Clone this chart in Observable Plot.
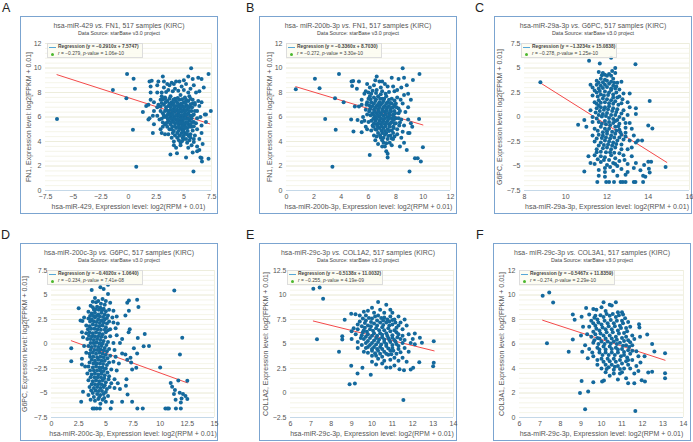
<!DOCTYPE html>
<html><head><meta charset="utf-8">
<script src="https://cdn.jsdelivr.net/npm/d3@7"></script>
<script src="https://cdn.jsdelivr.net/npm/@observablehq/plot@0.6"></script>
<style>
html,body{margin:0;padding:0;background:#fff}
#fig{position:relative;width:693px;height:442px;overflow:hidden;font-family:"Liberation Sans",Arial,sans-serif;color:#555}
.letter{position:absolute;font-size:12.5px;line-height:12px;color:#222}
.panel{position:absolute;width:196px;height:196px;border:1px solid #7ba4d0;background:#fff}
.panel svg{position:absolute;left:0;top:0;overflow:visible;background:transparent}
.title{position:absolute;left:0;width:196px;text-align:center;white-space:nowrap;top:5px;font-size:6.9px;line-height:8px;color:#555}
.sub{position:absolute;left:0;width:196px;text-align:center;white-space:nowrap;top:13px;font-size:5.3px;line-height:7px;color:#444}
.legend{position:absolute;width:94px;height:13px;top:26px;border:1px solid #ddd;background:rgba(252,252,240,.88);font-size:4.9px;line-height:6.5px;color:#444;white-space:nowrap}
.legend b{position:absolute;left:10px;top:0}
.legend span{position:absolute;left:10px;top:7px}
.swatch{position:absolute;left:1px;top:3px;width:7px;height:1px;background:#56a7d8}
.gdot{position:absolute;left:3px;top:8.5px;width:3px;height:3px;border-radius:50%;background:#4cb82e}
</style></head><body><div id="fig"></div>
<script>
const letters = ["A","B","C","D","E","F"];
const titles = [
 ["hsa-miR-429","FN1"],["hsa- miR-200b-3p","FN1"],["hsa-miR-29a-3p","G6PC"],
 ["hsa-miR-200c-3p","G6PC"],["hsa-miR-29c-3p","COL1A2"],["hsa- miR-29c-3p","COL3A1"]];
const xLabels = ["hsa-miR-429","hsa-miR-200b-3p","hsa-miR-29a-3p","hsa-miR-200c-3p","hsa-miR-29c-3p","hsa-miR-29c-3p"];
const yLabels = ["FN1","FN1","G6PC","G6PC","COL1A2","COL3A1"];
const slopes = [-0.2910,-0.3360,-1.3234,-0.4020,-0.5138,-0.5467];
const intercepts = [7.5747,8.7030,15.0838,1.0640,11.0032,11.8359];
const rValues = ["-0.279","-0.272","-0.278","-0.234","-0.255","-0.274"];
const pValues = ["1.06e-10","3.30e-10","1.25e-10","7.41e-08","4.19e-09","2.29e-10"];
const xDomains = [[-7.5,7.5],[0,12],[8,16],[0,15],[6,14],[6,14]];
const yDomains = [[0,12],[0,12],[-7.5,7.5],[-7.5,7.5],[-2.5,12.5],[0,12]];
const xTicks = [[-7.5,-5,-2.5,0,2.5,5,7.5],[0,2,4,6,8,10,12],[8,10,12,14,16],[0,2.5,5,7.5,10,12.5,15],[6,7,8,9,10,11,12,13,14],[6,7,8,9,10,11,12,13,14]];
const yTicks = [[0,2,4,6,8,10,12],[0,2,4,6,8,10,12],[-7.5,-5,-2.5,0,2.5,5,7.5],[-7.5,-5,-2.5,0,2.5,5,7.5],[-2.5,0,2.5,5,7.5,10,12.5],[0,2,4,6,8,10,12]];
const minorSteps = [0.4,0.4,0.5,0.5,0.5,0.4];
const lineX = [[-6.46,7.35],[0.68,9.98],[8.77,14.9],[1.82,12.5],[7.12,13.05],[7.13,13.1]];

const pointsA = [-6.46,5.84,-1.41,8.2,-0.13,9.51,-0.19,7.53,0.46,9.13,0.58,8.3,0.4,4.95,0.7,1.93,5.66,9.97,7.23,9.51,7.44,6.5,5.87,1.55,7.23,2.6,3.79,2.93,4.38,3.04,5.2,2.7,6.6,2.66,6.64,2.36,
1.9,8.9,2.0,8.5,2.1,8.95,2.0,8.0,2.6,8.6,2.7,8.9,2.6,8.0,3.1,9.3,3.2,8.9,3.2,8.4,3.5,8.7,3.7,8.6,3.6,8.2,3.9,8.8,4.1,8.7,4.3,8.9,4.6,8.9,4.2,8.3,4.8,8.5,5.0,9.0,5.4,9.3,5.2,8.7,5.8,9.1,6.3,9.2,6.6,9.1,5.9,8.6,6.1,8.0,6.8,8.4,6.4,8.1,5.6,8.3,
1.3,6.4,1.6,6.9,1.8,7.0,2.0,7.4,2.3,7.2,2.6,6.8,2.7,7.0,1.8,5.8,1.9,5.9,2.2,6.1,2.3,6.5,2.6,6.1,2.8,5.8,2.3,5.4,2.2,4.7,2.9,5.0,3.1,5.2,3.3,4.6,3.0,4.7,3.6,4.6,2.9,7.4,3.0,7.7,3.3,7.5,2.9,6.5,3.2,6.0,3.4,5.5,3.7,5.0,3.9,4.3,4.1,4.0,4.1,3.7,4.3,3.5,4.0,4.7,
4.7,3.9,5.0,4.2,5.3,3.9,5.4,3.5,5.7,3.7,5.8,3.1,6.2,3.6,6.2,3.2,6.0,4.5,6.4,4.2,6.7,3.8,6.6,4.7,6.2,5.0,5.6,4.6,5.1,4.7,4.6,4.5,4.8,5.0,
6.4,6.9,6.5,6.0,6.9,6.2,7.0,6.2,6.2,6.5,6.0,7.0,6.3,7.3,6.6,7.2,5.8,7.4,6.1,5.5,6.6,5.3,7.0,5.6,5.9,5.6,6.2,5.9,
3.3,7.6,3.8,7.7,4.2,7.5,4.7,7.8,5.1,7.6,5.5,7.7,3.5,7.3,3.9,7.2,4.3,7.3,4.6,7.4,5.0,7.2,5.4,7.3,5.8,7.1,3.2,7.0,3.6,6.9,4.0,7.0,4.3,6.9,4.6,7.0,4.9,6.9,5.2,7.0,5.5,6.8,
3.4,6.6,3.8,6.6,4.1,6.7,4.4,6.6,4.7,6.7,5.0,6.6,5.3,6.6,5.7,6.5,3.1,6.3,3.6,6.3,3.9,6.3,4.2,6.4,4.5,6.3,4.8,6.4,5.1,6.3,5.4,6.3,5.9,6.2,3.4,6.0,3.8,6.0,4.1,6.0,4.4,6.1,4.7,6.0,5.0,6.0,5.3,5.9,5.7,5.9,
3.6,5.7,4.0,5.7,4.3,5.8,4.6,5.7,4.9,5.7,5.2,5.6,5.5,5.7,3.3,5.4,3.8,5.4,4.2,5.5,4.5,5.4,4.8,5.4,5.1,5.3,5.4,5.4,3.9,5.0,4.3,5.1,4.6,5.1,5.0,5.0,5.3,5.1,5.7,5.2,4.4,4.7,4.8,4.7,5.3,4.6,5.6,4.3,4.9,4.3,4.4,4.3,5.2,4.2,4.7,3.7];
const extraA = [3.0,8.0,3.4,8.05,4.0,8.1,4.5,8.15,5.0,8.2,5.4,8.0,3.1,7.45,3.7,7.5,4.05,7.4,4.45,7.55,4.85,7.45,5.2,7.4,5.6,7.5,3.0,7.15,3.35,7.2,3.7,7.1,4.1,7.15,4.45,7.15,4.8,7.1,5.15,7.2,5.6,7.05,6.0,7.15,2.9,6.85,3.4,6.8,3.8,6.85,4.15,6.85,4.5,6.85,4.75,6.8,5.05,6.8,5.35,6.85,5.75,6.8,
3.3,6.5,3.6,6.5,3.95,6.5,4.25,6.55,4.55,6.5,4.85,6.5,5.15,6.5,5.5,6.5,6.0,6.5,3.2,6.15,3.5,6.15,3.75,6.15,4.0,6.2,4.3,6.15,4.6,6.15,4.9,6.15,5.2,6.15,5.55,6.1,5.8,6.15,3.0,5.85,3.55,5.85,3.85,5.85,4.15,5.85,4.45,5.85,4.75,5.85,5.05,5.85,5.4,5.85,5.75,5.6,
3.1,5.55,3.5,5.55,3.85,5.6,4.1,5.55,4.4,5.6,4.7,5.55,5.0,5.5,5.3,5.55,5.6,5.4,3.5,5.2,3.95,5.2,4.2,5.25,4.55,5.2,4.85,5.2,5.15,5.15,5.5,5.2,5.9,5.25,4.1,4.85,4.5,4.85,4.95,4.85,5.35,4.85,5.8,4.9,4.2,4.5,4.65,4.5,5.0,4.5,5.45,4.45,5.9,4.2,4.55,4.1,4.85,4.05,5.5,4.1,5.9,3.95,6.4,3.3,6.5,2.7];

const pointsB = [0.68,8.26,2.08,9.13,2.42,8.34,3.84,9.51,2.83,5.84,3.55,7.53,3.6,4.95,3.36,1.93,4.18,7.2,4.73,5.79,4.9,4.81,6.09,2.9,8.5,9.97,9.73,9.51,9.98,3.53,9.83,2.36,9.0,1.55,9.4,2.64,9.6,2.64,9.7,5.84,9.25,9.02,4.76,8.9,4.88,8.94,5.3,8.9,4.8,8.53,5.15,8.3,5.0,6.85,5.3,6.85,5.2,5.76,5.5,5.6,5.7,5.7,5.5,4.75,
5.9,8.7,6.1,8.4,6.0,8.0,6.5,9.0,6.6,9.3,6.4,8.6,6.8,8.9,7.0,8.9,7.2,8.7,7.4,8.5,6.9,8.4,7.7,9.2,8.2,9.1,8.6,9.2,8.8,8.6,7.8,8.5,8.1,8.2,8.4,8.4,8.6,7.8,8.9,7.9,9.1,7.4,5.5,7.4,5.7,7.9,5.9,7.2,6.1,7.7,
5.5,7.0,5.8,6.6,5.9,6.2,5.6,6.0,6.0,5.6,5.8,5.2,5.9,5.0,6.2,4.9,6.3,5.3,6.4,4.5,6.5,4.1,6.7,3.8,6.9,4.3,7.0,3.6,7.1,3.9,7.3,3.2,7.4,3.0,7.4,2.7,7.2,3.6,7.7,3.7,7.8,4.2,8.3,3.6,8.6,3.9,8.4,4.3,8.8,3.3,8.1,4.6,8.5,4.8,8.9,4.7,9.0,4.7,8.6,5.3,8.9,5.8,9.1,5.5,9.2,5.2,8.4,5.8,8.2,6.3,8.7,6.4,8.9,6.8,8.5,7.1,
6.0,7.5,6.4,7.6,6.7,7.7,7.0,7.5,7.3,7.7,7.7,7.5,8.1,7.6,6.2,7.2,6.5,7.3,6.8,7.2,7.1,7.3,7.4,7.2,7.7,7.1,8.0,7.1,6.3,6.9,6.6,6.9,6.9,7.0,7.2,6.9,7.5,6.9,7.8,6.8,8.2,6.7,
6.1,6.6,6.4,6.6,6.7,6.6,7.0,6.6,7.3,6.6,7.6,6.6,7.9,6.5,6.3,6.3,6.6,6.3,6.9,6.3,7.2,6.4,7.5,6.3,7.8,6.2,8.0,5.9,6.5,6.0,6.8,6.0,7.1,6.1,7.4,6.0,7.7,5.9,6.2,5.7,6.5,5.7,6.8,5.7,7.1,5.7,7.4,5.7,7.7,5.6,8.0,5.5,
6.6,5.4,6.9,5.4,7.2,5.4,7.5,5.4,7.8,5.2,6.5,5.0,6.8,5.1,7.1,5.1,7.4,5.0,7.7,4.9,8.1,5.0,6.7,4.7,7.0,4.7,7.3,4.7,7.6,4.5,7.9,4.4,7.1,4.3,7.4,4.2,6.6,4.4];
const extraB = [5.8,8.1,6.3,8.15,6.6,8.2,7.0,8.1,7.5,8.05,7.9,8.1,6.2,7.9,6.55,7.95,6.9,7.85,7.25,7.9,6.15,7.45,6.55,7.45,6.85,7.5,7.15,7.5,7.5,7.4,7.9,7.35,8.35,7.4,5.85,7.0,6.05,6.95,6.4,7.1,6.7,7.05,7.0,7.15,7.3,7.1,7.6,7.15,7.9,6.95,
6.15,6.75,6.5,6.75,6.8,6.8,7.1,6.8,7.4,6.8,7.7,6.75,8.05,6.8,6.05,6.45,6.45,6.45,6.75,6.45,7.05,6.5,7.35,6.5,7.65,6.45,7.95,6.3,8.3,6.5,6.15,6.15,6.4,6.15,6.7,6.15,6.95,6.2,7.25,6.2,7.55,6.15,7.85,6.05,8.2,5.9,
6.35,5.85,6.6,5.85,6.95,5.85,7.2,5.9,7.5,5.85,7.85,5.75,8.3,5.55,6.4,5.5,6.7,5.5,7.0,5.55,7.3,5.55,7.6,5.5,7.9,5.45,8.25,5.3,6.35,5.2,6.65,5.25,6.95,5.25,7.25,5.25,7.55,5.2,7.85,5.1,6.6,4.95,6.95,4.9,7.2,4.85,7.5,4.85,7.8,4.7,6.85,4.5,7.2,4.55,7.45,4.45,7.7,4.25,7.0,4.1,7.3,3.85,7.55,3.9];

const pointsC = [8.77,3.55,10.6,-0.78,10.9,-5.57,11.13,5.75,11.65,5.47,12.2,6.05,13.38,5.37,14.07,1.62,14.0,-0.88,14.2,-1.18,14.84,-5.1,14.0,-4.56,14.14,-4.56,13.8,-4.9,14.03,-5.27,14.07,-5.67,13.62,-5.44,13.75,-6.0,13.86,-6.1,
11.53,-6.64,11.96,-6.64,12.1,-6.64,12.34,-6.64,12.66,-6.64,12.77,-6.64,12.9,-6.64,13.3,-6.64,13.38,-6.64,13.75,-6.64,
11.6,4.6,11.8,4.5,11.9,4.3,12.0,4.2,12.2,4.2,12.4,5.0,12.4,4.5,12.3,3.9,11.5,3.7,11.7,3.9,11.9,3.8,11.2,3.3,11.3,3.0,11.5,3.3,11.7,3.2,11.9,3.3,12.1,3.4,12.3,3.2,12.5,3.5,12.7,3.6,12.4,2.9,12.6,2.8,
11.3,2.2,11.5,2.5,11.7,2.3,11.9,2.6,12.1,2.5,12.3,2.3,12.6,2.1,12.8,2.4,13.1,2.4,11.4,1.5,11.6,1.7,11.8,1.9,12.0,1.8,12.2,1.7,12.4,1.6,12.7,1.4,13.0,1.5,13.1,1.0,11.2,0.7,11.5,0.9,11.7,1.0,11.9,1.0,12.1,1.1,12.3,0.9,12.5,0.8,12.8,0.7,13.4,0.9,
11.3,0.0,11.6,0.2,11.8,0.3,12.0,0.4,12.2,0.2,12.4,0.2,12.6,0.0,13.0,0.2,13.4,0.3,10.9,-0.3,11.3,-0.5,11.6,-0.5,11.9,-0.4,12.1,-0.5,12.3,-0.6,12.6,-0.7,12.9,-0.6,13.1,-0.6,11.0,-1.0,11.4,-1.2,11.7,-1.0,11.9,-1.2,12.1,-1.2,12.4,-1.0,12.6,-1.3,12.9,-1.1,13.2,-1.2,
11.3,-1.9,11.6,-1.8,11.8,-1.9,12.0,-1.7,12.2,-1.9,12.4,-1.7,12.7,-1.8,12.9,-1.6,13.3,-1.9,11.4,-2.5,11.7,-2.6,11.9,-2.4,12.1,-2.5,12.3,-2.6,12.5,-2.4,12.8,-2.3,13.1,-2.4,13.5,-2.4,13.7,-2.4,13.4,-2.6,
11.5,-3.3,11.8,-3.2,12.0,-3.1,12.2,-3.3,12.4,-3.1,12.7,-3.3,13.0,-3.3,13.2,-3.1,11.1,-4.0,11.4,-3.9,11.7,-4.0,11.9,-4.1,12.2,-3.9,12.4,-4.2,12.8,-3.9,13.2,-4.0,11.2,-4.7,11.4,-4.8,11.7,-4.6,12.0,-4.9,12.3,-4.7,12.6,-4.5,13.0,-4.8,13.4,-4.7,
11.6,-5.4,11.9,-5.2,12.3,-5.5,12.7,-5.3,13.0,-5.6,13.3,-5.2,11.6,-6.0,11.9,-6.1,12.5,-6.0,12.9,-5.9];
const extraC = [11.75,4.25,12.1,4.4,12.25,4.7,11.6,3.5,11.8,3.55,12.0,3.7,12.2,3.6,12.35,3.5,11.6,2.9,11.8,2.95,12.0,3.05,12.2,2.9,12.45,3.1,11.4,2.7,11.65,2.65,11.85,2.2,12.05,2.25,12.2,2.75,12.45,2.5,11.55,2.1,12.3,2.0,12.5,2.0,12.75,1.8,
11.5,1.35,11.7,1.45,11.9,1.5,12.1,1.4,12.3,1.35,12.55,1.25,11.6,1.15,11.85,0.75,12.05,0.8,12.25,0.6,12.45,0.5,11.65,0.6,11.45,0.45,12.7,0.35,11.75,0.05,11.95,0.1,12.1,-0.1,12.3,-0.2,12.5,-0.3,11.5,-0.15,11.75,-0.7,11.95,-0.75,12.15,-0.85,12.4,-0.4,12.55,-0.95,12.8,-0.2,
11.55,-1.4,11.8,-1.55,12.0,-1.45,12.25,-1.5,12.45,-1.4,12.65,-1.55,11.5,-2.2,11.75,-2.15,11.95,-2.1,12.15,-2.2,12.35,-2.1,12.6,-2.1,12.9,-2.0,11.6,-2.9,11.85,-2.85,12.05,-2.8,12.25,-2.9,12.45,-2.75,12.7,-2.8,11.5,-3.6,11.7,-3.55,11.95,-3.6,12.15,-3.6,12.35,-3.65,12.6,-3.7,11.85,-4.4,12.1,-4.4,12.4,-4.8,12.85,-4.4,11.55,-4.3,11.9,-5.6,12.15,-5.1,12.5,-5.0];

const pointsD = [11.3,5.47,12.03,0.65,11.82,-1.08,10.0,-2.4,11.67,-3.72,12.5,-3.75,10.97,-3.99,11.1,-4.36,11.36,-4.7,11.27,-5.1,11.8,-4.97,12.1,-5.1,12.33,-5.3,12.5,-5.6,11.42,-5.7,11.97,-5.55,11.9,-5.96,
7.9,-6.57,8.4,-6.57,10.48,-6.57,10.67,-6.57,10.8,-6.57,11.45,-6.57,11.9,-6.57,7.88,4.52,7.12,4.45,6.97,4.2,8.0,3.77,6.8,2.9,7.12,3.4,8.58,1.03,7.94,0.6,7.1,1.2,7.2,1.5,8.48,-0.23,8.97,-0.2,7.58,-0.43,7.88,-0.97,6.5,-0.97,6.8,-1.08,7.27,-1.4,6.97,-1.6,7.42,-2.6,7.8,-2.43,7.33,-1.9,6.9,-3.6,6.85,-4.26,7.0,-5.15,7.42,-5.9,6.5,-5.9,5.55,-5.92,
1.82,-0.43,1.82,-1.75,2.5,3.64,2.67,2.4,2.85,2.35,2.73,-5.9,2.9,-4.87,3.79,-6.57,3.94,-6.57,4.15,-6.57,4.45,-6.57,5.45,-6.57,
3.7,5.5,4.5,5.8,4.8,5.6,5.2,6.05,5.2,5.1,3.8,4.3,4.0,4.7,4.3,4.4,4.7,4.6,5.0,4.4,5.4,4.2,3.6,3.9,3.9,3.5,4.2,3.8,4.5,3.7,4.8,3.6,5.3,3.5,5.7,3.4,
3.4,3.3,3.7,3.1,4.0,3.2,4.3,3.0,4.6,3.2,4.9,3.0,5.2,2.9,5.6,2.7,6.0,2.8,3.0,2.7,3.4,2.6,3.7,2.5,4.0,2.7,4.3,2.5,4.6,2.4,4.9,2.5,5.3,2.3,5.7,2.2,6.1,2.1,
3.2,1.9,3.5,1.8,3.8,2.0,4.1,1.9,4.4,1.8,4.7,1.9,5.0,1.7,5.4,1.5,5.9,1.6,2.8,1.2,3.2,1.1,3.5,1.2,3.8,1.1,4.1,1.2,4.4,1.1,4.7,1.0,5.0,1.2,5.4,0.8,6.0,0.9,6.5,0.5,
2.9,0.7,3.3,0.5,3.6,0.5,3.9,0.4,4.2,0.5,4.5,0.4,4.8,0.3,5.2,0.2,5.7,0.1,6.3,0.1,3.0,-0.2,3.4,-0.2,3.7,-0.3,4.0,-0.2,4.3,-0.3,4.6,-0.2,4.9,-0.4,5.3,-0.5,5.8,-0.6,
3.2,-0.9,3.5,-1.0,3.8,-0.9,4.1,-1.0,4.4,-0.9,4.7,-1.0,5.0,-1.1,5.4,-1.2,5.9,-1.3,2.8,-1.5,3.7,-1.6,4.0,-1.7,4.3,-1.6,4.6,-1.7,4.9,-1.7,5.3,-1.9,5.7,-1.8,6.2,-2.0,
2.8,-2.1,3.1,-2.3,3.4,-2.3,3.8,-2.4,4.1,-2.3,4.4,-2.4,4.7,-2.4,5.0,-2.5,5.5,-2.6,6.0,-2.7,3.3,-3.0,3.7,-3.1,4.0,-3.0,4.3,-3.1,4.6,-3.0,4.9,-3.2,5.3,-3.3,5.8,-3.6,
3.4,-3.7,3.8,-3.8,4.1,-3.7,4.4,-3.8,4.7,-3.7,5.0,-3.9,5.5,-4.0,6.1,-4.0,3.5,-4.4,3.9,-4.5,4.2,-4.4,4.5,-4.5,4.8,-4.4,5.1,-4.6,5.8,-4.5,6.3,-4.6,
3.4,-5.2,3.8,-5.0,4.2,-5.1,4.5,-5.2,4.8,-5.1,5.2,-5.3,3.6,-5.7,4.0,-5.8,4.3,-5.6,4.7,-5.7,5.0,-5.9,4.5,-6.1];
const extraD = [4.1,4.25,4.55,4.1,4.9,4.0,3.8,3.75,4.05,3.55,4.35,3.5,4.65,3.45,5.0,3.35,3.55,2.85,3.85,2.85,4.15,2.85,4.45,2.8,4.75,2.75,5.1,2.65,3.55,2.3,3.9,2.3,4.15,2.25,4.45,2.15,4.8,2.2,5.1,2.1,3.35,1.5,3.65,1.55,3.95,1.55,4.25,1.5,4.55,1.45,4.9,1.45,5.2,1.4,
3.45,0.85,3.75,0.8,4.0,0.8,4.3,0.8,4.6,0.75,4.95,0.7,3.6,0.1,3.85,0.1,4.15,0.15,4.4,0.05,4.7,0.05,5.05,-0.1,3.6,-0.6,3.95,-0.6,4.2,-0.6,4.5,-0.55,4.8,-0.65,5.1,-0.75,3.55,-1.3,3.85,-1.3,4.2,-1.35,4.5,-1.3,4.8,-1.35,5.15,-1.45,3.5,-1.9,3.85,-2.0,4.15,-2.0,4.45,-2.0,4.75,-2.05,5.1,-2.15,
3.55,-2.7,3.9,-2.7,4.2,-2.7,4.5,-2.7,4.8,-2.75,5.15,-2.9,3.6,-3.4,3.95,-3.4,4.25,-3.4,4.55,-3.4,4.85,-3.5,5.25,-3.6,3.7,-4.1,4.0,-4.1,4.3,-4.1,4.6,-4.1,4.9,-4.2,5.35,-4.4,3.65,-4.75,4.05,-4.75,4.35,-4.8,4.65,-4.8,5.0,-4.9,3.9,-5.4,4.4,-5.4,4.85,-5.5];

const pointsE = [7.12,10.64,7.43,10.77,7.6,9.62,7.3,5.48,8.38,4.2,8.54,5.79,8.54,5.45,8.66,7.48,8.98,8.09,9.19,8.03,8.98,2.77,9.29,1.99,8.9,0.9,9.16,0.97,9.53,2.57,9.94,1.86,11.54,-0.72,13.03,5.28,13.03,3.08,13.0,2.74,12.32,3.14,12.35,5.65,12.45,5.14,12.1,6.06,12.1,4.97,12.02,2.57,11.9,2.4,11.57,2.33,11.35,2.43,
10.3,9.28,10.7,9.0,10.0,8.7,10.4,8.5,10.9,8.5,11.0,8.2,9.6,8.3,9.8,8.4,9.4,7.9,9.7,7.9,10.1,8.2,10.6,8.2,11.3,7.8,9.1,6.6,9.0,6.3,9.2,6.0,9.0,5.5,9.3,5.2,9.3,4.6,9.5,4.9,9.6,4.2,9.8,4.1,10.0,3.8,10.0,3.2,10.2,2.9,10.5,3.0,10.7,2.6,10.9,2.6,11.1,2.8,11.3,3.3,10.9,3.4,11.5,3.6,11.7,3.2,11.8,4.2,11.6,4.6,11.9,5.1,12.0,5.5,11.8,6.0,11.5,6.5,11.7,6.9,11.4,7.2,11.6,7.5,11.1,7.5,
9.4,7.3,9.7,7.4,10.0,7.6,10.3,7.9,10.6,7.7,10.9,7.8,9.5,6.8,9.8,6.9,10.1,7.1,10.4,7.2,10.7,7.2,11.0,7.0,11.3,6.9,9.3,6.5,9.6,6.4,9.9,6.5,10.2,6.6,10.5,6.7,10.8,6.6,11.1,6.4,
9.5,5.9,9.8,6.0,10.1,6.1,10.4,6.1,10.7,6.1,11.0,5.9,11.3,6.0,9.6,5.5,9.9,5.6,10.2,5.6,10.5,5.7,10.8,5.6,11.1,5.4,11.4,5.5,9.7,5.1,10.0,5.1,10.3,5.2,10.6,5.2,10.9,5.2,11.2,5.0,11.5,5.1,
9.8,4.7,10.1,4.7,10.4,4.7,10.7,4.8,11.0,4.6,11.3,4.5,10.0,4.3,10.3,4.3,10.6,4.2,10.9,4.3,11.2,4.0,10.2,3.8,10.5,3.7,10.8,3.9,11.1,3.6,9.3,7.0,9.7,4.6,11.6,5.4];
const extraE = [9.55,7.6,9.85,7.65,10.15,7.8,10.45,7.65,10.75,7.5,11.0,7.45,9.65,7.15,9.95,7.25,10.25,7.4,10.55,7.4,10.85,7.3,11.15,7.2,9.65,6.65,9.95,6.8,10.25,6.9,10.55,6.95,10.85,6.9,11.2,6.65,9.75,6.25,10.05,6.35,10.35,6.4,10.6,6.4,10.9,6.3,11.2,6.2,
9.7,5.75,10.0,5.85,10.25,5.85,10.5,5.95,10.75,5.85,11.0,5.65,11.25,5.7,9.8,5.3,10.1,5.35,10.35,5.45,10.6,5.45,10.85,5.4,11.15,5.25,9.9,4.9,10.2,4.95,10.45,4.95,10.7,5.0,11.0,4.9,11.3,4.8,10.0,4.5,10.25,4.5,10.5,4.5,10.8,4.55,11.05,4.3,10.15,4.05,10.4,4.0,10.7,4.0,10.95,3.95,10.3,3.5,10.6,3.3,11.4,4.15,9.45,5.6,9.55,6.2,11.5,5.85];

const pointsF = [7.13,9.93,7.45,10.2,7.64,9.39,7.34,6.07,8.4,5.36,8.6,8.41,8.69,7.97,8.6,6.37,9.03,8.22,9.25,8.93,9.06,5.36,9.33,4.84,9.03,2.97,8.95,2.01,9.35,2.12,9.2,0.68,11.65,0.54,9.6,2.88,10.03,2.94,10.12,3.02,13.1,5.25,13.1,3.62,13.1,3.21,12.47,3.73,12.28,3.67,12.47,5.99,12.58,5.39,12.23,6.78,11.88,6.6,11.83,7.62,11.85,7.35,12.12,2.94,11.96,3.05,
10.1,9.4,10.4,9.2,10.7,9.4,10.5,9.15,9.6,8.85,9.75,8.8,10.0,9.0,9.4,8.4,9.7,8.3,10.2,8.7,11.0,8.6,11.05,8.4,10.8,8.6,9.1,7.4,9.0,6.7,9.3,6.8,9.5,6.6,9.6,6.1,9.4,5.6,9.6,5.0,9.8,4.7,9.8,4.3,10.0,4.0,10.2,3.7,10.4,3.4,10.6,3.6,10.8,3.1,11.0,3.7,11.2,3.2,11.3,2.8,11.6,2.8,11.6,3.6,11.7,4.2,11.9,4.5,12.1,5.0,11.3,4.3,11.5,4.7,
9.5,7.9,9.8,8.0,10.1,8.2,10.4,8.3,10.7,8.2,11.0,7.9,11.3,7.8,11.4,7.4,9.4,7.4,9.7,7.5,10.0,7.6,10.3,7.7,10.6,7.7,10.9,7.5,11.2,7.3,9.6,7.0,9.9,7.1,10.2,7.2,10.5,7.2,10.8,7.1,11.1,6.9,11.5,6.7,
9.8,6.5,10.1,6.7,10.4,6.7,10.7,6.6,11.0,6.5,11.3,6.3,10.0,6.2,10.3,6.2,10.6,6.2,10.9,6.1,11.2,5.9,11.5,5.9,9.8,5.7,10.1,5.8,10.4,5.8,10.7,5.7,11.0,5.6,11.3,5.5,11.7,5.4,
9.9,5.3,10.2,5.3,10.5,5.3,10.8,5.3,11.1,5.1,11.4,5.2,11.8,5.0,10.0,4.8,10.3,4.8,10.6,4.8,10.9,4.7,11.2,4.6,10.2,4.3,10.5,4.3,10.8,4.2,11.1,4.0,10.6,3.9,10.9,3.6,9.2,5.9];
const extraF = [9.65,8.15,9.95,8.35,10.25,8.45,10.55,8.45,10.85,8.35,11.15,8.1,9.6,7.7,9.85,7.75,10.15,7.9,10.45,7.95,10.75,7.9,11.05,7.7,9.75,7.25,10.05,7.35,10.35,7.45,10.65,7.45,10.95,7.3,11.25,7.05,9.7,6.8,9.95,6.85,10.25,6.95,10.55,6.95,10.85,6.85,11.2,6.6,9.65,6.3,9.9,6.45,10.2,6.45,10.5,6.45,10.75,6.35,11.1,6.25,11.4,6.15,
9.85,6.0,10.15,6.0,10.45,6.05,10.75,6.0,11.05,5.85,11.35,5.75,9.9,5.55,10.2,5.55,10.5,5.6,10.8,5.55,11.1,5.35,11.5,5.45,10.05,5.1,10.35,5.1,10.65,5.1,10.95,5.0,11.25,4.9,10.1,4.55,10.4,4.6,10.7,4.55,11.0,4.4,11.3,4.7,10.35,4.1,10.65,4.15,10.9,3.95,10.25,3.95,11.4,4.0,11.8,3.8,9.55,5.3,11.6,6.4];

const allPoints = [pointsA.concat(extraA),pointsB.concat(extraB),pointsC.concat(extraC),pointsD.concat(extraD),pointsE.concat(extraE),pointsF.concat(extraF)];
const framePos = [[20,16],[259,16],[494,16],[20,243],[259,243],[493,243]];
const lettersPos = [[2,2],[246,2],[475,2],[1,229],[246,229],[476,229]];
const margins = [[24,6],[26,6],[29,2],[30,3],[30,3],[25,7]];
const yLabelOffset = [19,19,27,29,27,20];
const legendLeft = [26,26,26,26,27,25];

const pairs = f => d3.range(0,f.length,2).map(i=>({x:f[i],y:f[i+1]}));
const fig = document.getElementById("fig");
const fmt = d3.format("~g");

letters.forEach((L,i)=>{
  const l=document.createElement("div");l.className="letter";l.textContent=L;
  l.style.left=lettersPos[i][0]+"px";l.style.top=lettersPos[i][1]+"px";fig.appendChild(l);
  const p=document.createElement("div");p.className="panel";
  p.style.left=framePos[i][0]+"px";p.style.top=framePos[i][1]+"px";
  const yd=yDomains[i], xd=xDomains[i];
  const all=d3.range(yd[0],yd[1]+1e-6,minorSteps[i]);
  const chart=Plot.plot({
    width:196,height:196,
    marginLeft:margins[i][0],marginRight:margins[i][1],marginTop:26,marginBottom:23,
    style:{fontFamily:"'Liberation Sans',Arial,sans-serif",fontSize:"7px",color:"#555",background:"transparent"},
    x:{domain:xd,ticks:xTicks[i]},
    y:{domain:yd,ticks:yTicks[i]},
    marks:[
      Plot.ruleY(all,{stroke:"#f1f1e2",strokeWidth:0.8}),
      Plot.ruleY(yTicks[i],{stroke:"#ebebd8",strokeWidth:0.8}),
      Plot.ruleY([yd[0]],{stroke:"#c4d8e8",strokeWidth:1}),
      Plot.ruleX([xd[1]],{stroke:"#eeeeda",strokeWidth:0.8}),
      Plot.axisX({ticks:xTicks[i],tickSize:0,tickPadding:4,tickFormat:fmt,label:xLabels[i]+", Expression level: log2(RPM + 0.01)",labelAnchor:"center",labelArrow:"none",labelOffset:18,fontSize:7,color:"#555"}),
      Plot.axisY({ticks:yTicks[i],tickSize:0,tickPadding:4,tickFormat:fmt,label:yLabels[i]+", Expression level: log2[FPKM + 0.01]",labelAnchor:"center",labelArrow:"none",labelOffset:yLabelOffset[i],fontSize:7,color:"#555"}),
      Plot.line(lineX[i].map(x=>({x,y:slopes[i]*x+intercepts[i]})),{x:"x",y:"y",stroke:"#f44a4a",strokeWidth:1}),
      Plot.dot(pairs(allPoints[i]),{x:"x",y:"y",r:2,fill:"#14699d"})
    ]
  });
  p.appendChild(chart);
  const t=document.createElement("div");t.className="title";
  t.innerHTML=titles[i][0]+" <i>vs.</i> "+titles[i][1]+", 517 samples (KIRC)";p.appendChild(t);
  const s=document.createElement("div");s.className="sub";s.textContent="Data Source: starBase v3.0 project";p.appendChild(s);
  const g=document.createElement("div");g.className="legend";g.style.left=legendLeft[i]+"px";
  const sl=slopes[i].toFixed(4).replace("-","−"), ic=intercepts[i].toFixed(4);
  g.innerHTML='<div class="swatch"></div><b>Regression (y = '+sl+'x + '+ic+')</b><div class="gdot"></div><span><i>r</i> = '+rValues[i].replace("-","−")+', <i>p</i>-value = '+pValues[i]+'</span>';
  p.appendChild(g);
  fig.appendChild(p);
});
</script></body></html>
